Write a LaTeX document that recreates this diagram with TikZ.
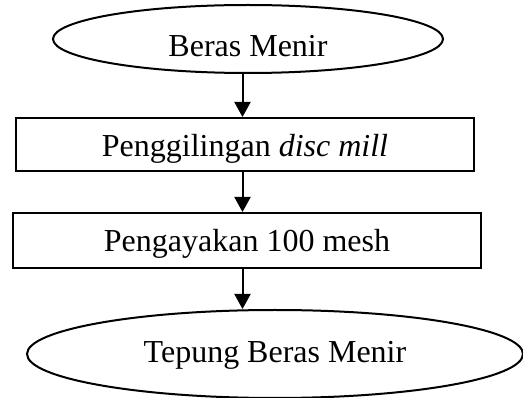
\documentclass[tikz,border=0pt]{standalone}
\usepackage{fontspec}
\setmainfont{Liberation Serif}
\usetikzlibrary{shapes.geometric,arrows.meta}
\begin{document}
\begin{tikzpicture}[x=1pt,y=-1pt,
  ln/.style={line width=2pt},
  oval/.style={ellipse,draw,ln,inner sep=0pt},
  boxstep/.style={rectangle,draw,ln,inner sep=0pt},
  lbl/.style={font=\fontsize{32}{38}\selectfont,inner sep=0pt},
  arr/.style={ln,-{Triangle[length=15pt,width=16pt]}}]
\useasboundingbox (0,0) rectangle (523,398);
\node[oval,minimum width=390pt,minimum height=68pt] (e1) at (248,39) {};
\node[lbl,anchor=base] (t1) at (248,57) {Beras Menir};
\node[boxstep,minimum width=458pt,minimum height=53pt] (r1) at (245,144.5) {};
\node[lbl,anchor=base] (t2) at (245,157) {Penggilingan \textit{disc mill}};
\node[boxstep,minimum width=468pt,minimum height=55pt] (r2) at (247,240.5) {};
\node[lbl,anchor=base] (t3) at (247,252) {Pengayakan 100 mesh};
\node[oval,minimum width=496pt,minimum height=88pt] (e2) at (275,354) {};
\node[lbl,anchor=base] (t4) at (275,363) {Tepung Beras Menir};
\coordinate (ax) at (242.5,0);
\draw[arr] (e1.south -| ax) -- (r1.north -| ax);
\draw[arr] (r1.south -| ax) -- (r2.north -| ax);
\draw[arr] (r2.south -| ax) -- (e2.north -| ax);
\end{tikzpicture}
\end{document}
